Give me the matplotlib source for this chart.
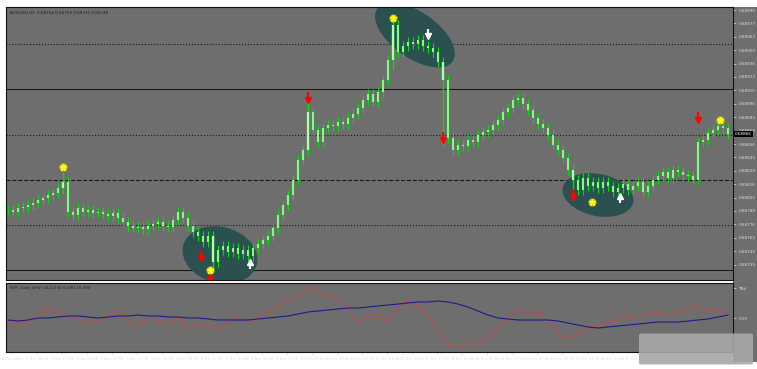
import numpy as np
import matplotlib.pyplot as plt
from matplotlib.patches import Ellipse, FancyBboxPatch
from matplotlib.transforms import IdentityTransform

# close prices, one per H1 bar
closes = [
    0.68790, 0.68788, 0.68792, 0.68793, 0.68795, 0.68797, 0.68800, 0.68802, 0.68805, 0.68807, 0.68812, 0.68818,
    0.68788, 0.68785, 0.68792, 0.68788, 0.68790, 0.68787, 0.68788, 0.68786, 0.68784, 0.68787, 0.68782, 0.68778,
    0.68774, 0.68772, 0.68773, 0.68771, 0.68774, 0.68776, 0.68778, 0.68774, 0.68773, 0.68780, 0.68788, 0.68782,
    0.68774, 0.68768, 0.68764, 0.68758, 0.68764, 0.68738, 0.68750, 0.68754, 0.68748, 0.68752, 0.68746, 0.68750,
    0.68744, 0.68752, 0.68756, 0.68760, 0.68764, 0.68772, 0.68785, 0.68795, 0.68805, 0.68820, 0.68840, 0.68850,
    0.68888, 0.68870, 0.68858, 0.68872, 0.68875, 0.68874, 0.68878, 0.68876, 0.68882, 0.68886, 0.68892, 0.68900,
    0.68906, 0.68898, 0.68908, 0.68920, 0.68940, 0.68975, 0.68948, 0.68954, 0.68958, 0.68956, 0.68960, 0.68954,
    0.68952, 0.68948, 0.68938, 0.68920, 0.68862, 0.68850, 0.68855, 0.68854, 0.68860, 0.68858, 0.68865, 0.68868,
    0.68870, 0.68875, 0.68880, 0.68888, 0.68892, 0.68900, 0.68902, 0.68896, 0.68890, 0.68882, 0.68876, 0.68872,
    0.68865, 0.68855, 0.68850, 0.68842, 0.68830, 0.68820, 0.68810, 0.68822, 0.68814, 0.68818, 0.68812, 0.68818,
    0.68814, 0.68808, 0.68812, 0.68816, 0.68810, 0.68814, 0.68818, 0.68808, 0.68814, 0.68820, 0.68824, 0.68828,
    0.68822, 0.68830, 0.68828, 0.68825, 0.68824, 0.68820, 0.68858, 0.68860, 0.68867, 0.68870, 0.68874, 0.68872,
    0.68866,
]
# bars with long wicks: (bar, high, low)
spikes = [(11, 0.68828, 0.68806), (41, 0.68766, 0.68728), (60, 0.68900, 0.68848),
          (77, 0.68985, 0.68930), (87, 0.68930, 0.68855), (113, 0.68830, 0.68800)]

# oscillator (red) and its signal (blue), one point every 2 bars
osc = [-2, -6, -4, 6, 10, 6, 2, -2, -6, -4, 2, 6, -4, -8, 0, -4, -6, 0, -10, -8,
       -6, -12, -4, 0, -4, 0, 6, 12, 18, 22, 32, 26, 22, 18, 10, -4, 2, 4, -4, 12,
       18, 12, 4, -14, -26, -28, -30, -24, -20, -12, 0, 8, 4, 6, -4, -16, -20, -16, -10, -8,
       -4, -2, 2, 0, 4, 6, 4, 6, 10, 12, 8, 8, 6]
sig = [-2, -3, -2, 0, 0, 1, 2, 2, 1, 0, 1, 2, 2, 3, 2, 2, 1, 1, 0, 0,
       -1, -2, -2, -2, -2, -1, 0, 1, 2, 4, 6, 7, 8, 9, 10, 10, 11, 12, 13, 14,
       15, 16, 16, 17, 16, 14, 11, 7, 3, 0, -1, -2, -2, -2, -2, -3, -5, -7, -9, -10,
       -9, -8, -7, -6, -5, -4, -4, -4, -3, -2, -1, 1, 3]

time_labels = ['3 Dec 2020', '4 Dec 09:00', '4 Dec 17:00', '7 Dec 01:00', '7 Dec 09:00', '7 Dec 17:00',
               '8 Dec 01:00', '8 Dec 09:00', '8 Dec 17:00', '9 Dec 01:00', '9 Dec 09:00', '9 Dec 17:00',
               '10 Dec 01:00', '10 Dec 09:00', '10 Dec 17:00', '11 Dec 01:00', '11 Dec 09:00', '11 Dec 17:00',
               '14 Dec 01:00', '14 Dec 09:00', '14 Dec 17:00', '15 Dec 01:00', '15 Dec 09:00', '15 Dec 17:00',
               '16 Dec 01:00', '16 Dec 09:00', '16 Dec 17:00', '17 Dec 01:00', '17 Dec 09:00']

levels = [(0.68956, ':'), (0.68911, '-'), (0.68865, ':'), (0.68820, '--'), (0.68775, ':'), (0.68730, '-')]

sell_arrows = [(60, 0.68900), (87, 0.68860), (138, 0.68880), (113, 0.68803), (38.6, 0.68742)]
buy_red = [(40.4, 0.68724)]
white_up = [(48.4, 0.68738), (122.4, 0.68804)]
white_down = [(84, 0.68964)]
stars = [(11, 0.68833), (77, 0.68982), (116.8, 0.68798), (142.4, 0.68880), (40.4, 0.68730)]

# ellipses: bar centre, price centre, width px, height px, angle
zones = [(42.4, 0.68745, 76, 56, -15), (81.4, 0.68965, 92, 46, -35), (118, 0.68805, 72, 42, -12)]

BG = '#6e6e6e'
W, H = 757, 369
fig = plt.figure(figsize=(W / 100, H / 100), dpi=100, facecolor='white')

def rect(x0, y0, x1, y1):
    return [x0 / W, 1 - y1 / H, (x1 - x0) / W, (y1 - y0) / H]

ax = fig.add_axes(rect(6, 7, 733, 280), facecolor=BG)
ax2 = fig.add_axes(rect(6, 283, 733, 352), facecolor=BG)
fig.patches.append(plt.Rectangle((733 / W, 7 / H), 24 / W, 1 - 14 / H, transform=fig.transFigure,
                                 facecolor=BG, edgecolor='none', zorder=-1))

n = len(closes)
idx = np.arange(n)
opens = [closes[0]] + closes[:-1]
ax.set_xlim(-0.4, 145)
ax.set_ylim(0.68720, 0.68993)

for y, ls in levels:
    ax.axhline(y, color='#1a1a1a', lw=0.8, ls=ls, zorder=1)

for i in idx:
    o, c = opens[i], closes[i]
    lo, hi = min(o, c) - 0.00005, max(o, c) + 0.00005
    ax.vlines(i, lo, hi, color='#00e000', lw=0.8, zorder=3)
    ax.vlines(i, min(o, c), max(o, c), color='#7dff7d', lw=1.5, zorder=4)
for i, hi, lo in spikes:
    ax.vlines(i, lo, hi, color='#00e000', lw=1.0, zorder=3)
    ax.vlines(i, min(opens[i], closes[i]), max(opens[i], closes[i]), color='#aaffaa', lw=1.6, zorder=4)

fig.canvas.draw()
for bx, py, w, h, ang in zones:
    cx, cy = ax.transData.transform((bx, py))
    e = Ellipse((cx, cy), w, h, angle=ang, transform=IdentityTransform(),
                facecolor='#2b5050', edgecolor='none', zorder=2)
    e.set_clip_path(ax.patch)
    ax.add_artist(e)

for bx, py in sell_arrows:
    ax.plot(bx, py, marker='v', color='red', ms=5, zorder=6)
    ax.vlines(bx, py, py + 0.00008, color='red', lw=1.5, zorder=6)
for bx, py in buy_red:
    ax.plot(bx, py, marker='^', color='red', ms=5, zorder=6)
for bx, py in white_up:
    ax.plot(bx, py, marker='^', color='white', ms=4.5, zorder=6)
    ax.vlines(bx, py - 0.00007, py, color='white', lw=1.5, zorder=6)
for bx, py in white_down:
    ax.plot(bx, py, marker='v', color='white', ms=4.5, zorder=6)
    ax.vlines(bx, py, py + 0.00007, color='white', lw=1.5, zorder=6)
for bx, py in stars:
    ax.plot(bx, py, marker='o', color='#ffff00', ms=5, alpha=0.5, zorder=7)
    ax.plot(bx, py, marker='*', color='#ffff00', ms=5, zorder=7)

ax.text(0.005, 0.985, 'AUDUSD,H1  0.68754 0.68763 0.68741 0.68748', transform=ax.transAxes,
        fontsize=3, color='#222222', va='top')

ax.yaxis.tick_right()
ticks = [0.68990 - 0.000134 * k for k in range(20)]
ax.set_yticks(ticks)
ax.set_yticklabels(['%.5f' % t for t in ticks], fontsize=3, color='#dddddd')
ax.tick_params(axis='y', length=2, pad=2, colors='#dddddd', width=0.5)
ax.set_xticks([])
ax.text(1.003, (0.68866 - 0.68720) / 0.00273, '0.68866', transform=ax.transAxes, fontsize=3,
        color='white', va='center', bbox=dict(facecolor='black', edgecolor='none', pad=0.6))

ix = np.arange(len(osc)) * 2
ax2.set_xlim(-0.4, 145)
ax2.set_ylim(-34, 35)
ax2.plot(ix, osc, color='#c84848', lw=0.7)
ax2.plot(ix, sig, color='#1c1c8c', lw=0.8)
ax2.text(0.005, 0.96, 'STR_Gold_GHV (14,3,0.8) 0.690 10.390', transform=ax2.transAxes,
         fontsize=3, color='#222222', va='top')
ax2.yaxis.tick_right()
ax2.set_yticks([30, 0])
ax2.set_yticklabels(['TBd', '0.00'], fontsize=3, color='#dddddd')
ax2.tick_params(axis='y', length=2, pad=2, width=0.5, colors='#dddddd')
tpos = np.arange(len(time_labels)) * 5.0 + 0.8
ax2.set_xticks(tpos)
ax2.set_xticklabels(time_labels, fontsize=2.6, color='#dddddd')
ax2.tick_params(axis='x', length=2, pad=1.5, width=0.5, colors='#dddddd')

for a in (ax, ax2):
    for s in a.spines.values():
        s.set_color('#111111')
        s.set_linewidth(0.8)

fig.patches.append(FancyBboxPatch((642 / W, 6 / H), 108 / W, 28 / H, boxstyle='round,pad=0.004',
                                  transform=fig.transFigure, facecolor='#a8a8a8', edgecolor='none',
                                  alpha=0.9, zorder=10))

fig.savefig('out.png', dpi=100, facecolor='white')
